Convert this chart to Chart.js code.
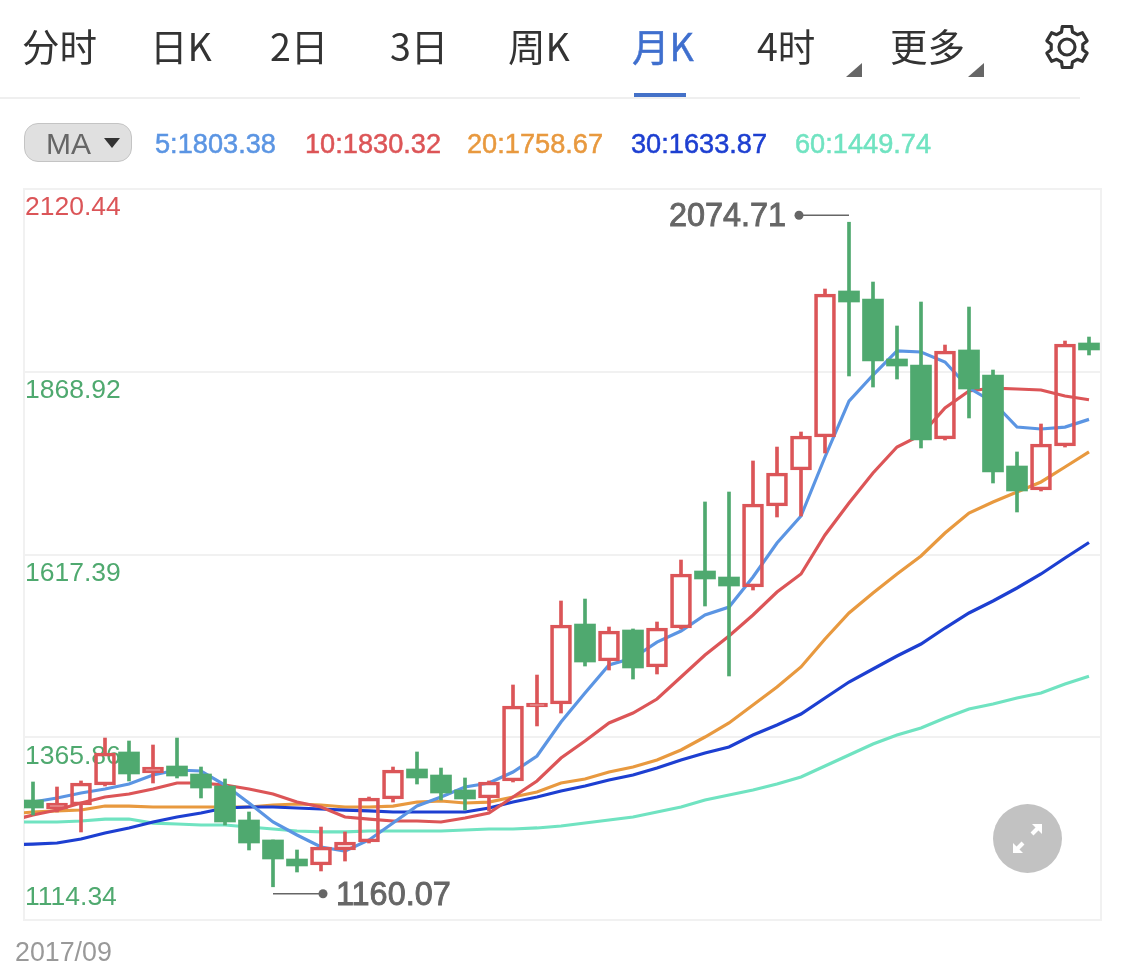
<!DOCTYPE html>
<html>
<head>
<meta charset="utf-8">
<title>月K</title>
<script src="https://cdn.jsdelivr.net/npm/chart.js@4"></script>
<style>
    html, body { margin: 0; padding: 0; background: #fff; width: 1125px; height: 975px; overflow: hidden; }
    #grafico { position: absolute; left: 0; top: 0; }
    .tab { position: absolute; top: 18px; font: 37.5px "Noto Sans CJK SC", sans-serif; line-height: 54px; color: #333; white-space: nowrap; }
    .tab.activo { color: #3f6fce; -webkit-text-stroke: 0.5px; }
    .triangulo { position: absolute; top: 63px; width: 0; height: 0; border-left: 16px solid transparent; border-bottom: 14px solid #666; }
    #subrayado { position: absolute; left: 634px; top: 93px; width: 52px; height: 4px; background: #4471c8; }
    #separador { position: absolute; left: 0; top: 97px; width: 1080px; height: 2px; background: #efefef; }
    #pastilla { position: absolute; left: 24px; top: 123px; width: 106px; height: 37px; border: 1px solid #c4c4c4; border-radius: 14px; background: #e0e0e0; color: #666; font: 30px "Liberation Sans", sans-serif; line-height: 40px; text-indent: 21px; }
    #pastilla i { position: absolute; left: 79px; top: 14px; width: 0; height: 0; border-left: 8px solid transparent; border-right: 8px solid transparent; border-top: 10px solid #333; }
    .ma { position: absolute; top: 127px; font: 27.2px "Liberation Sans", sans-serif; line-height: 34px; white-space: nowrap; -webkit-text-stroke: 0.5px; }
    svg { position: absolute; }
</style>
</head>
<body>
<canvas id="grafico" width="1125" height="975"></canvas>
<div id="cabecera"></div>
<div id="subrayado"></div>
<div id="separador"></div>
<div class="triangulo" style="left:846px"></div>
<div class="triangulo" style="left:968px"></div>
<svg style="left:1043px;top:23px" width="48" height="48" viewBox="0 0 48 48">
    <path id="engranaje" fill="none" stroke="#333" stroke-width="3.2" stroke-linejoin="round"></path>
    <circle cx="24" cy="24" r="8" fill="none" stroke="#333" stroke-width="3.2"></circle>
</svg>
<div id="pastilla">MA<i></i></div>
<svg style="left:993px;top:804px" width="69" height="69" viewBox="0 0 69 69">
    <circle cx="34.5" cy="34.5" r="34.5" fill="#c2c2c2"></circle>
    <g fill="none" stroke="#fff" stroke-width="4">
        <path d="M30 39 L22 47"></path><path d="M39 30 L47 22"></path>
    </g>
    <path d="M20 39 L30 49 L20 49 Z" fill="#fff"></path>
    <path d="M49 30 L39 20 L49 20 Z" fill="#fff"></path>
</svg>
<script>
const tabs = ["分时", "日K", "2日", "3日", "周K", "月K", "4时", "更多"];
const tabsX = [22, 150, 270, 390, 508, 632, 757, 890];
const tabActivo = "月K";

const maNames = ["5:1803.38", "10:1830.32", "20:1758.67", "30:1633.87", "60:1449.74"];
const maX = [155, 305, 467, 631, 795];
const maColors = ["#5b95e3", "#dc5557", "#e8993f", "#1d3fd1", "#70e3c1"];

const yTicks = [2120.44, 1868.92, 1617.39, 1365.86, 1114.34];
const primerPeriodo = "2017/09";

const opens = [1279.5, 1267.1, 1272.6, 1300.1, 1345.6, 1316.7, 1326.3, 1315.3, 1298.8, 1252.0, 1224.5, 1198.3, 1190.0, 1210.7, 1221.7, 1280.9, 1322.2, 1313.9, 1293.3, 1282.3, 1305.7, 1407.5, 1411.6, 1521.7, 1470.8, 1513.5, 1462.6, 1516.2, 1594.7, 1586.4, 1572.7, 1684.1, 1733.7, 1779.1, 1980.1, 1969.0, 1886.5, 1878.2, 1776.4, 1898.9, 1864.4, 1739.2, 1706.2, 1766.7, 1908.5];
const closes = [1268.5, 1275.4, 1302.9, 1344.2, 1315.3, 1324.9, 1312.5, 1296.0, 1249.2, 1220.3, 1198.3, 1188.7, 1214.8, 1221.7, 1282.3, 1320.8, 1309.8, 1289.1, 1280.9, 1304.3, 1408.9, 1413.0, 1520.4, 1469.4, 1512.1, 1461.2, 1516.2, 1590.6, 1583.7, 1574.0, 1686.9, 1729.6, 1780.5, 1975.9, 1964.9, 1883.7, 1876.8, 1775.0, 1897.5, 1845.2, 1730.9, 1704.8, 1769.5, 1907.1, 1898.9];
const highs = [1304.3, 1297.4, 1305.7, 1364.8, 1360.7, 1355.2, 1364.8, 1324.9, 1308.4, 1263.0, 1224.5, 1210.7, 1242.3, 1235.5, 1283.6, 1324.9, 1345.6, 1323.5, 1309.8, 1305.7, 1437.8, 1451.5, 1553.4, 1556.1, 1517.6, 1514.9, 1524.5, 1609.8, 1689.7, 1703.4, 1746.1, 1765.3, 1786.0, 1982.8, 2074.71, 1992.4, 1931.9, 1964.9, 1905.7, 1958.0, 1871.3, 1758.5, 1797.0, 1911.2, 1916.7];
const lows = [1258.9, 1263.0, 1235.5, 1298.8, 1305.7, 1302.9, 1309.8, 1282.3, 1245.1, 1210.7, 1160.07, 1180.4, 1181.8, 1195.5, 1220.3, 1276.7, 1301.5, 1279.5, 1265.7, 1264.4, 1304.3, 1381.4, 1399.2, 1463.9, 1458.4, 1446.0, 1452.9, 1514.9, 1546.5, 1450.2, 1568.5, 1669.0, 1670.4, 1757.1, 1863.1, 1847.9, 1858.9, 1764.0, 1775.0, 1805.3, 1715.8, 1675.9, 1704.8, 1765.3, 1892.0];

// cada media lleva primero el valor del mes anterior, que queda cortado por el borde izquierdo
const ma5 = [1271.2, 1276.7, 1282.3, 1289.1, 1294.6, 1301.5, 1313.9, 1320.8, 1319.4, 1300.1, 1275.4, 1249.2, 1231.3, 1214.8, 1209.3, 1224.5, 1247.8, 1271.2, 1283.6, 1297.4, 1302.9, 1318.0, 1340.1, 1386.8, 1426.8, 1465.3, 1474.9, 1496.9, 1512.1, 1534.1, 1545.1, 1586.4, 1633.2, 1670.4, 1751.6, 1828.6, 1864.4, 1897.5, 1896.1, 1882.3, 1846.5, 1827.3, 1792.8, 1790.1, 1792.8, 1803.38];
const ma10 = [1250.6, 1258.9, 1265.7, 1275.4, 1283.6, 1287.8, 1294.6, 1302.9, 1302.9, 1300.1, 1294.6, 1287.8, 1276.7, 1269.9, 1256.1, 1253.3, 1250.6, 1250.6, 1249.2, 1254.7, 1261.6, 1283.6, 1305.7, 1337.3, 1360.7, 1385.5, 1399.2, 1418.5, 1448.8, 1479.0, 1505.2, 1534.1, 1565.8, 1590.6, 1644.2, 1688.3, 1729.6, 1765.3, 1781.9, 1819.0, 1842.4, 1846.5, 1845.2, 1843.8, 1835.5, 1830.32];
const ma20 = [1260.2, 1263.0, 1264.4, 1265.7, 1271.2, 1271.2, 1269.9, 1269.9, 1269.9, 1269.9, 1269.9, 1272.6, 1274.0, 1272.6, 1269.9, 1269.9, 1271.2, 1276.7, 1278.1, 1275.4, 1276.7, 1283.6, 1290.5, 1302.9, 1308.4, 1318.0, 1324.9, 1334.5, 1348.3, 1366.2, 1385.5, 1410.2, 1435.0, 1462.6, 1501.1, 1536.9, 1564.4, 1590.6, 1615.3, 1647.0, 1674.5, 1689.7, 1703.4, 1717.2, 1737.8, 1758.67];
const ma30 = [1217.6, 1218.9, 1220.3, 1225.8, 1234.1, 1241.0, 1249.2, 1256.1, 1261.6, 1268.5, 1269.9, 1269.9, 1268.5, 1267.1, 1265.7, 1264.4, 1263.0, 1263.0, 1263.0, 1263.0, 1268.5, 1276.7, 1283.6, 1291.9, 1298.8, 1307.0, 1313.9, 1323.5, 1334.5, 1344.2, 1352.4, 1368.9, 1382.7, 1397.9, 1419.9, 1441.9, 1459.8, 1477.7, 1494.2, 1516.2, 1536.9, 1553.4, 1571.3, 1590.6, 1612.6, 1633.87];
const ma60 = [1249.2, 1249.2, 1249.2, 1250.6, 1253.3, 1253.3, 1247.8, 1246.5, 1245.1, 1245.1, 1242.3, 1239.6, 1236.8, 1235.5, 1235.5, 1236.8, 1236.8, 1236.8, 1236.8, 1238.2, 1239.6, 1239.6, 1241.0, 1243.7, 1247.8, 1252.0, 1256.1, 1263.0, 1269.9, 1279.5, 1286.4, 1293.3, 1301.5, 1311.1, 1326.3, 1341.4, 1356.6, 1368.9, 1378.6, 1392.4, 1404.7, 1411.6, 1419.9, 1426.8, 1439.1, 1449.74];

const VERDE = "#4fa96f";
const ROJO = "#db5558";
const GRIS_GRID = "#f1f1f1";

// cabecera en html
const cabecera = document.getElementById("cabecera");
tabs.forEach((t, i) => {
    const s = document.createElement("span");
    s.className = t === tabActivo ? "tab activo" : "tab";
    s.style.left = tabsX[i] + "px";
    s.textContent = t;
    cabecera.appendChild(s);
});
maNames.forEach((t, i) => {
    const s = document.createElement("span");
    s.className = "ma";
    s.style.left = maX[i] + "px";
    s.style.color = maColors[i];
    s.textContent = t;
    cabecera.appendChild(s);
});

// dientes del engranaje
let d = "";
for (let k = 0; k < 6; k++) {
    const a = -90 + 60 * k;
    [[a - 13, 21], [a + 13, 21], [a + 20, 16], [a + 40, 16]].forEach(([g, r]) => {
        const px = (24 + r * Math.cos(g * Math.PI / 180)).toFixed(1);
        const py = (24 + r * Math.sin(g * Math.PI / 180)).toFixed(1);
        d += (d ? "L" : "M") + px + " " + py + " ";
    });
}
document.getElementById("engranaje").setAttribute("d", d + "Z");

const esRojo = opens.map((o, i) => closes[i] >= o);

function lineaMA(valores, color, orden) {
    return {
        type: "line",
        data: valores.map((v, i) => ({ x: i - 1, y: v })),
        borderColor: color,
        borderWidth: 3.2,
        pointRadius: 0,
        tension: 0,
        order: orden
    };
}

function barras(datos, grosor, extra) {
    return Object.assign({
        type: "bar",
        data: datos,
        barThickness: grosor,
        grouped: false,
        borderSkipped: false,
        order: 1
    }, extra);
}

const colorVela = esRojo.map((r) => (r ? ROJO : VERDE));

const datasets = [
    barras(highs.map((h, i) => ({ x: i, y: [Math.max(opens[i], closes[i]), h] })), 3, { backgroundColor: colorVela, borderWidth: 0 }),
    barras(lows.map((l, i) => ({ x: i, y: [l, Math.min(opens[i], closes[i])] })), 3, { backgroundColor: colorVela, borderWidth: 0 }),
    barras(opens.map((o, i) => ({ x: i, y: [o, closes[i]] })), 21, {
        backgroundColor: esRojo.map((r) => (r ? "rgba(255,255,255,0)" : VERDE)),
        borderColor: colorVela,
        borderWidth: esRojo.map((r) => (r ? 3 : 0))
    }),
    lineaMA(ma60, maColors[4], 6),
    lineaMA(ma30, maColors[3], 4),
    lineaMA(ma20, maColors[2], 5),
    lineaMA(ma10, maColors[1], 3),
    lineaMA(ma5, maColors[0], 2)
];

// marco del grafico
const pluginMarco = {
    id: "marco",
    beforeDatasetsDraw(chart) {
        const { ctx, chartArea: a } = chart;
        ctx.save();
        ctx.strokeStyle = GRIS_GRID;
        ctx.lineWidth = 2;
        ctx.strokeRect(a.left, a.top, a.right - a.left, a.bottom - a.top);
        ctx.restore();
    }
};

// etiquetas de maximo y minimo
const pluginExtremos = {
    id: "extremos",
    afterDatasetsDraw(chart) {
        const { ctx, scales } = chart;
        const maximo = Math.max(...highs);
        const minimo = Math.min(...lows);
        const dibujar = (valor, idx, dy, dir) => {
            const x = scales.x.getPixelForValue(idx);
            const y = scales.y.getPixelForValue(valor) + dy;
            const fin = x + dir * 50;
            ctx.save();
            ctx.strokeStyle = "#666";
            ctx.fillStyle = "#666";
            ctx.lineWidth = 1.5;
            ctx.beginPath();
            ctx.moveTo(x, y);
            ctx.lineTo(fin, y);
            ctx.stroke();
            ctx.beginPath();
            ctx.arc(fin, y, 4.5, 0, Math.PI * 2);
            ctx.fill();
            ctx.font = "32.4px 'Liberation Sans', sans-serif";
            ctx.textBaseline = "middle";
            ctx.textAlign = dir < 0 ? "right" : "left";
            ctx.lineWidth = 0.9;
            ctx.fillText(valor.toFixed(2), fin + dir * 13, y + 2);
            ctx.strokeText(valor.toFixed(2), fin + dir * 13, y + 2);
            ctx.restore();
        };
        dibujar(maximo, highs.indexOf(maximo), -7, -1);
        dibujar(minimo, lows.indexOf(minimo), 7, 1);
    }
};

new Chart(document.getElementById("grafico").getContext("2d"), {
    data: { datasets },
    plugins: [pluginMarco, pluginExtremos],
    options: {
        responsive: false,
        animation: false,
        events: [],
        layout: { padding: { left: 24, right: 24, top: 189, bottom: 0 } },
        plugins: { legend: { display: false }, tooltip: { enabled: false } },
        scales: {
            x: {
                type: "linear",
                offset: false,
                min: -0.375,
                max: 44.5,
                afterBuildTicks: (axis) => { axis.ticks = [{ value: 0 }]; },
                afterFit: (axis) => { axis.height = 55; },
                grid: { display: false },
                border: { display: false },
                ticks: {
                    align: "start",
                    labelOffset: -18,
                    padding: 10,
                    maxRotation: 0,
                    autoSkip: false,
                    color: "#999",
                    font: { family: "'Liberation Sans', sans-serif", size: 26.8 },
                    callback: () => primerPeriodo
                }
            },
            y: {
                min: yTicks[yTicks.length - 1],
                max: yTicks[0],
                afterBuildTicks: (axis) => { axis.ticks = yTicks.map((value) => ({ value })); },
                afterFit: (axis) => { axis.width = 0; },
                grid: { color: GRIS_GRID, lineWidth: 2, drawTicks: false },
                border: { display: false },
                ticks: {
                    mirror: true,
                    labelOffset: 19,
                    padding: 1,
                    autoSkip: false,
                    color: (c) => (c.index === 0 ? ROJO : VERDE),
                    font: { family: "'Liberation Sans', sans-serif", size: 26.5 },
                    callback: (v, i) => (i === yTicks.length - 1 ? "" : yTicks[i].toFixed(2))
                }
            },
            // la ultima etiqueta va encima de su linea
            yBase: {
                position: "left",
                min: yTicks[yTicks.length - 1],
                max: yTicks[0],
                afterBuildTicks: (axis) => { axis.ticks = [{ value: yTicks[yTicks.length - 1] }]; },
                afterFit: (axis) => { axis.width = 0; },
                grid: { display: false },
                border: { display: false },
                ticks: {
                    mirror: true,
                    labelOffset: -22,
                    padding: 1,
                    autoSkip: false,
                    color: VERDE,
                    font: { family: "'Liberation Sans', sans-serif", size: 26.5 },
                    callback: (v) => v.toFixed(2)
                }
            }
        }
    }
});
</script>
</body>
</html>
